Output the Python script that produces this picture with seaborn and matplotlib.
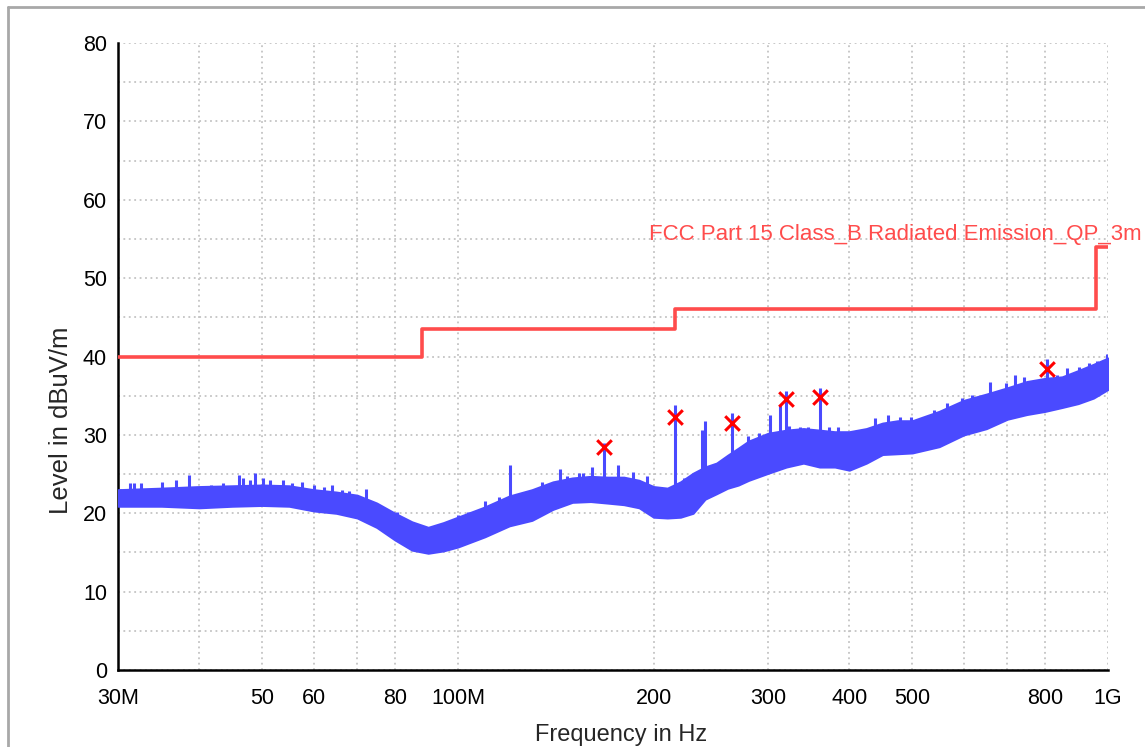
import matplotlib
matplotlib.use("Agg")
import matplotlib.pyplot as plt
from matplotlib.lines import Line2D
from matplotlib.ticker import FixedLocator, NullFormatter
import seaborn as sns

# Data (frequency in MHz, level in dBuV/m)
band_freq = [30, 35, 40, 45, 50, 55, 60, 65, 70, 75, 80, 85, 90, 95, 100, 110, 120,
             130, 140, 150, 160, 170, 180, 190, 200, 210, 220, 230, 240, 250, 260,
             270, 280, 300, 320, 340, 360, 380, 400, 425, 450, 475, 500, 550, 600,
             650, 700, 750, 800, 850, 900, 950, 1000]
band_upper = [23.0, 23.2, 23.4, 23.5, 23.6, 23.5, 23.0, 22.7, 22.3, 21.3, 20.0, 18.9,
              18.2, 18.8, 19.5, 20.8, 22.2, 23.0, 24.0, 24.5, 24.7, 24.6, 24.6, 24.2,
              23.4, 23.2, 24.0, 25.1, 25.9, 26.4, 27.4, 28.3, 29.2, 30.2, 30.6, 30.8,
              30.6, 30.4, 30.4, 30.8, 31.5, 31.8, 31.8, 33.0, 34.4, 35.2, 36.0, 36.8,
              37.2, 37.4, 38.2, 39.0, 39.8]
band_lower = [20.9, 20.9, 20.7, 20.9, 21.0, 20.9, 20.3, 20.0, 19.4, 18.2, 16.6, 15.3,
              14.9, 15.2, 15.7, 17.0, 18.4, 19.1, 20.5, 21.4, 21.5, 21.3, 21.1, 20.7,
              19.5, 19.4, 19.5, 20.0, 21.8, 22.5, 23.2, 23.6, 24.2, 25.1, 25.9, 26.4,
              25.9, 25.9, 25.5, 26.4, 27.5, 27.6, 27.7, 28.5, 30.0, 30.8, 32.0, 32.6,
              33.0, 33.5, 34.0, 34.7, 35.8]

# narrow peaks sticking out of the band
spike_freq = [30.2, 31.3, 31.8, 32.6, 35.0, 36.9, 38.6, 40.2, 41.7, 43.5, 46.1, 46.7,
              47.8, 48.7, 50.2, 51.4, 53.8, 55.5, 57.5, 60.0, 62.2, 64.0, 66.3, 67.9,
              69.9, 72.3, 73.3, 75.9, 78.6, 80.5, 83.4, 86.8, 91.9, 96.5, 100.2, 103.8,
              110.2, 115.5, 120.2, 128.2, 134.9, 140.4, 143.6, 147.0, 153.4, 155.7,
              160.7, 168, 176.2, 185.8, 195.4, 204.6, 216, 222.8, 233, 237.6, 240, 264,
              279.8, 290.2, 302, 313, 320, 323.5, 335.4, 345, 360, 372, 384, 411, 438,
              458, 479, 497, 521, 539, 565, 596, 618, 658, 697, 719, 743, 772, 805, 834,
              864, 903, 936, 962, 995]
spike_top = [23.1, 23.9, 23.9, 23.8, 24.0, 24.2, 24.9, 23.4, 23.6, 23.8, 24.9, 24.5,
             24.2, 25.1, 24.5, 24.2, 24.2, 23.8, 24.0, 23.6, 23.4, 23.6, 23.0, 22.8,
             21.5, 23.1, 21.5, 20.6, 19.8, 20.2, 19.1, 18.1, 17.6, 18.3, 19.8, 20.2,
             21.5, 22.1, 26.2, 22.3, 24.0, 23.8, 25.6, 24.7, 25.1, 25.1,
             25.9, 29.0, 26.2, 25.3, 24.7, 23.4, 33.8, 24.5, 25.1, 30.6, 31.8, 32.8,
             29.8, 30.2, 32.5, 33.8, 35.6, 31.1, 31.0, 31.0, 36.0, 31.0, 31.0, 30.6, 32.2,
             32.5, 32.3, 32.3, 32.1, 33.2, 34.1, 34.7, 35.1, 36.7, 36.6, 37.6, 37.4, 37.0,
             39.7, 37.6, 38.5, 38.7, 39.2, 39.4, 40.3]
spike_base = [22, 22, 22, 22, 22, 22, 22, 22, 22, 22, 22.3, 22.3,
              22.3, 22.4, 22.4, 22.4, 22.4, 22.3, 22, 21.7, 21.5, 21.4, 21.2, 21,
              20.8, 20.5, 20.3, 19.8, 19, 18.4, 17.5, 17, 16.6, 17, 17.6, 18,
              18.8, 19.5, 20.2, 20.8, 21.4, 22, 22.4, 22.6, 22.9, 23,
              23, 23, 23, 22.6, 22, 21.5, 21.5, 21.8, 22.5, 23.5, 23.8, 25.3,
              26.8, 27.2, 27.6, 28, 28.1, 28.1, 28.3, 28.3, 28, 27.9, 27.8, 27.8, 29,
              29.3, 29.5, 29.6, 30, 30.5, 31.5, 32, 32.3, 32.8, 33.8, 34, 34.5, 34.8,
              35, 35.2, 35.4, 36, 36.5, 36.8, 37.5]

limit_freq = [30, 88, 88, 216, 216, 960, 960, 1000]
limit_level = [40, 40, 43.5, 43.5, 46, 46, 54, 54]
limit_name = "FCC Part 15 Class_B Radiated Emission_QP_3m"

peak_freq = [168, 216, 264, 320, 360, 805]
peak_level = [28.4, 32.3, 31.5, 34.6, 34.8, 38.4]

x_ticks = [30, 40, 50, 60, 70, 80, 100, 200, 300, 400, 500, 600, 700, 800, 1000]
x_tick_labels = ["30M", "", "50", "60", "", "80", "100M", "200", "300", "400", "500",
                 "", "", "800", "1G"]

TRACE_COLOR = "#4A4AFF"
LIMIT_COLOR = "#FF4C4C"

sns.set_style("white")
plt.rcParams["font.family"] = ["Liberation Sans", "DejaVu Sans"]

fig = plt.figure(figsize=(11.45, 7.47), dpi=100)
ax = fig.add_axes([118 / 1145, 1 - 670 / 747, 990 / 1145, 627 / 747])

# measured trace: dense band plus the narrow peaks
ax.fill_between(band_freq, band_lower, band_upper, color=TRACE_COLOR, lw=1.5, zorder=3)
ax.vlines(spike_freq, spike_base, spike_top, color=TRACE_COLOR, lw=2.2, zorder=3)

# limit line
sns.lineplot(x=limit_freq, y=limit_level, sort=False, estimator=None,
             color=LIMIT_COLOR, lw=2.6, ax=ax, zorder=4)
ax.annotate(limit_name, xy=(1000, 54), xytext=(34, 2), textcoords="offset pixels",
            ha="right", va="bottom", color=LIMIT_COLOR, fontsize=16, zorder=5,
            annotation_clip=False)

# final peaks
sns.scatterplot(x=peak_freq, y=peak_level, marker="x", s=110, color="#FF0000",
                linewidth=2.2, ax=ax, zorder=6)

ax.set_xscale("log")
ax.set_xlim(30, 1000)
ax.set_ylim(0, 80)
ax.xaxis.set_major_locator(FixedLocator(x_ticks))
ax.xaxis.set_minor_locator(FixedLocator([]))
ax.set_xticklabels(x_tick_labels)
ax.xaxis.set_minor_formatter(NullFormatter())
ax.set_yticks(range(0, 81, 10))
ax.set_yticks(range(5, 80, 10), minor=True)

ax.grid(True, which="both", color="#C4C4C4", linestyle=(0, (1, 2)), lw=1.3, zorder=0)
for side in ["top", "right"]:
    ax.spines[side].set_visible(False)
for side in ["left", "bottom"]:
    ax.spines[side].set_color("black")
    ax.spines[side].set_linewidth(1.8)
ax.tick_params(which="both", direction="inout", length=10, width=1.6, color="black",
               labelsize=15.5, labelcolor="black")
ax.tick_params(axis="x", pad=8)
ax.tick_params(axis="y", pad=3)

ax.set_xlabel("Frequency in Hz", fontsize=17, va="center")
ax.xaxis.set_label_coords((621 - 118) / 990, (670 - 735) / 627)
ax.set_ylabel("Level in dBuV/m", fontsize=18.5, va="center")
ax.yaxis.set_label_coords((61 - 118) / 990, (670 - 420) / 627)

# grey frame at the top and left edge
fig.add_artist(Line2D([8 / 1145, 1], [1 - 7 / 747] * 2, color="#A8A8A8", lw=2))
fig.add_artist(Line2D([8 / 1145] * 2, [0, 1 - 7 / 747], color="#A8A8A8", lw=2))

fig.savefig("out.png", dpi=100)
